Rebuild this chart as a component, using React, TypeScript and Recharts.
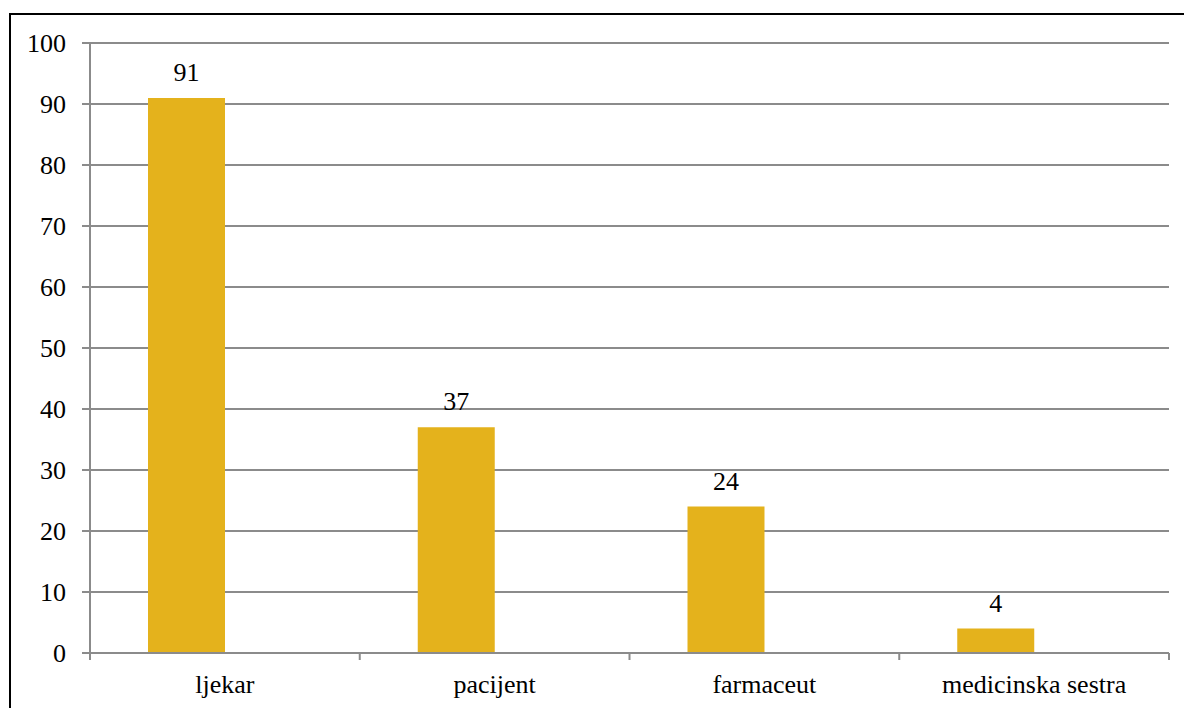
import { Bar, BarChart, CartesianGrid, LabelList, XAxis, YAxis } from 'recharts';

const kategorije = ['ljekar', 'pacijent', 'farmaceut', 'medicinska sestra'];
const vrijednosti = [91, 37, 24, 4];
const praznaSerija = [0, 0, 0, 0];
const yTicks = [0, 10, 20, 30, 40, 50, 60, 70, 80, 90, 100];

const data = kategorije.map((k, i) => ({ kategorija: k, broj: vrijednosti[i], prazno: praznaSerija[i] }));

const grey = '#8B8B8B';
const font = 'Liberation Serif, serif';
const fontSize = 26;
const xTickSize = 7;
const xTickMargin = 15;

// category labels plus the small tick marks on the category boundaries
function KategorijaTick(props: any) {
  const { x, y, payload, index, width, visibleTicksCount } = props;
  const band = (Number(width) || 1079) / (visibleTicksCount || kategorije.length);
  const y0 = y - xTickSize - xTickMargin;
  const last = index === visibleTicksCount - 1;
  return (
    <g>
      <line x1={x - band / 2} x2={x - band / 2} y1={y0} y2={y0 + xTickSize} stroke={grey} strokeWidth={2} />
      {last && <line x1={x + band / 2} x2={x + band / 2} y1={y0} y2={y0 + xTickSize} stroke={grey} strokeWidth={2} />}
      <text x={x} y={y} dy="0.71em" textAnchor="middle" fill="#000" fontSize={fontSize} fontFamily={font}>
        {payload.value}
      </text>
    </g>
  );
}

export default function App() {
  return (
    <div
      style={{
        position: 'absolute',
        left: 0,
        top: 0,
        width: 1184,
        height: 708,
        background: '#fff',
        overflow: 'hidden',
        fontFamily: font,
      }}
    >
      <div
        style={{
          position: 'absolute',
          left: 9,
          top: 13,
          width: 1200,
          height: 720,
          borderTop: '2px solid #000',
          borderLeft: '2px solid #000',
        }}
      />
      <div style={{ position: 'absolute', left: 0, top: 0 }}>
        <BarChart
          width={1184}
          height={708}
          data={data}
          margin={{ top: 43, right: 15, bottom: 0, left: 0 }}
          barCategoryGap="21.5%"
          barGap={0}
        >
          <CartesianGrid stroke={grey} strokeWidth={2} vertical={false} />
          <XAxis
            dataKey="kategorija"
            height={55}
            axisLine={{ stroke: grey, strokeWidth: 2 }}
            tickLine={false}
            tickSize={xTickSize}
            tickMargin={xTickMargin}
            interval={0}
            tick={<KategorijaTick />}
          />
          <YAxis
            width={90}
            domain={[0, 100]}
            ticks={yTicks}
            interval={0}
            tickSize={8}
            tickMargin={16}
            axisLine={{ stroke: grey, strokeWidth: 2 }}
            tickLine={{ stroke: grey, strokeWidth: 2 }}
            tick={{ fill: '#000', fontSize, fontFamily: font }}
          />
          <Bar dataKey="broj" fill="#E4B21C" isAnimationActive={false}>
            <LabelList dataKey="broj" position="top" offset={17} fill="#000" fontSize={fontSize} fontFamily={font} />
          </Bar>
          <Bar dataKey="prazno" fill="#E4B21C" isAnimationActive={false} />
        </BarChart>
      </div>
    </div>
  );
}
